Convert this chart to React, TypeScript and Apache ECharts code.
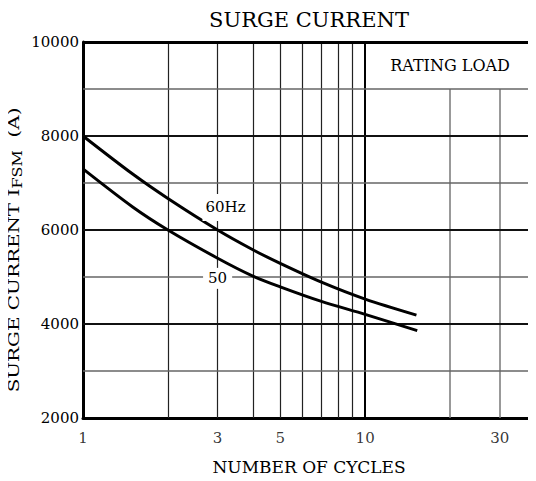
import React, { useEffect, useRef } from 'react';
import * as echarts from 'echarts';

const FONT = '"DejaVu Serif", serif';

// 60 Hz curve (number of cycles, surge current A)
const cycles60 = [1, 1.5, 2, 3, 4, 5, 7, 10, 15.2];
const current60 = [8000, 7190, 6670, 6000, 5580, 5290, 4890, 4530, 4190];
// 50 Hz curve
const cycles50 = [1, 1.5, 2, 3, 4, 5, 7, 10, 15.3];
const current50 = [7300, 6490, 6000, 5400, 5020, 4790, 4480, 4206, 3860];

const xTickLabels = [1, 3, 5, 10, 30];
const xMinorLines = [2, 3, 4, 5, 6, 7, 8, 9];
const xUpperLines = [20, 30];
const yMajorLines = [4000, 6000, 8000];
const yMinorLines = [3000, 5000, 7000, 9000];

const X_MIN = 1;
const X_MAX = 40;
const Y_MIN = 2000;
const Y_MAX = 10000;

export default function App() {
  const ref = useRef<HTMLDivElement>(null);

  useEffect(() => {
    if (!ref.current) return;
    const chart = echarts.init(ref.current, undefined, { renderer: 'svg' });

    const gridLines: any[] = [];
    xMinorLines.forEach((v) =>
      gridLines.push({ xAxis: v, lineStyle: { color: '#222', width: 1.2, type: 'solid' } })
    );
    gridLines.push({ xAxis: 10, lineStyle: { color: '#000', width: 2, type: 'solid' } });
    gridLines.push({ xAxis: X_MAX, lineStyle: { color: '#999', width: 1, type: 'solid' } });
    xUpperLines.forEach((v) =>
      gridLines.push([
        { coord: [v, Y_MIN], lineStyle: { color: '#777', width: 1.5, type: 'solid' } },
        { coord: [v, 9000] },
      ])
    );
    yMinorLines.forEach((v) =>
      gridLines.push({ yAxis: v, lineStyle: { color: '#666', width: 1.5, type: 'solid' } })
    );
    yMajorLines.forEach((v) =>
      gridLines.push({ yAxis: v, lineStyle: { color: '#111', width: 2, type: 'solid' } })
    );
    gridLines.push({ yAxis: Y_MAX, lineStyle: { color: '#000', width: 3, type: 'solid' } });

    const option: any = {
      animation: false,
      backgroundColor: '#fff',
      grid: { left: 83, right: 1, top: 42, bottom: 63, containLabel: false },
      xAxis: {
        type: 'log',
        logBase: 10,
        min: X_MIN,
        max: X_MAX,
        axisLine: { show: true, onZero: false, lineStyle: { color: '#000', width: 3 } },
        axisTick: { show: false },
        axisLabel: { show: false },
        splitLine: { show: false },
        name: 'NUMBER OF CYCLES',
        nameLocation: 'middle',
        nameGap: 40,
        nameTextStyle: { fontFamily: FONT, fontSize: 17, color: '#000' },
      },
      yAxis: {
        type: 'value',
        min: Y_MIN,
        max: Y_MAX,
        interval: 2000,
        axisLine: { show: true, lineStyle: { color: '#000', width: 3 } },
        axisTick: { show: false },
        splitLine: { show: false },
        axisLabel: {
          fontFamily: FONT,
          fontSize: 15,
          color: '#000',
          margin: 4,
          formatter: (v: number) => String(v),
        },
      },
      graphic: [
        {
          type: 'text',
          x: 309,
          y: 20,
          style: {
            text: 'SURGE CURRENT',
            fontFamily: FONT,
            fontSize: 21,
            fill: '#000',
            align: 'center',
            verticalAlign: 'middle',
          },
        },
        {
          type: 'text',
          x: 14,
          y: 250,
          rotation: Math.PI / 2,
          scaleX: 1.33,
          style: {
            text: '{n|SURGE CURRENT I}{s|FSM}{n|  (A)}',
            align: 'center',
            verticalAlign: 'middle',
            rich: {
              n: { fontFamily: FONT, fontSize: 15, fill: '#000', lineHeight: 20 },
              s: { fontFamily: FONT, fontSize: 12, fill: '#000', lineHeight: 12, verticalAlign: 'bottom' },
            },
          },
        },
      ],
      series: [
        {
          name: 'grid',
          type: 'scatter',
          data: xTickLabels.map((v) => [v, Y_MIN]),
          symbolSize: 1,
          clip: false,
          silent: true,
          itemStyle: { color: 'rgba(0,0,0,0)' },
          label: {
            show: true,
            position: 'bottom',
            distance: 12,
            formatter: (p: any) => String(p.value[0]),
            fontFamily: FONT,
            fontSize: 15,
            color: '#000',
          },
          markLine: {
            silent: true,
            symbol: ['none', 'none'],
            z: 1,
            label: { show: false },
            data: gridLines,
          },
          markArea: {
            silent: true,
            itemStyle: { color: 'rgba(0,0,0,0)' },
            label: {
              show: true,
              position: 'inside',
              fontFamily: FONT,
              fontSize: 16,
              color: '#000',
            },
            data: [[{ name: 'RATING LOAD', coord: [10, 9000] }, { coord: [X_MAX, Y_MAX] }]],
          },
          markPoint: {
            silent: true,
            z: 10,
            symbolSize: 1,
            itemStyle: { color: 'rgba(0,0,0,0)' },
            label: {
              show: true,
              position: 'inside',
              fontFamily: FONT,
              fontSize: 15,
              color: '#000',
              backgroundColor: '#fff',
              formatter: (p: any) => p.name,
            },
            data: [
              { name: '60Hz', coord: [3.2, 6470], label: { padding: [6, 3] } },
              { name: '50', coord: [3.0, 4960], label: { padding: [3, 5] } },
            ],
          },
        },
        {
          name: '60Hz',
          type: 'line',
          smooth: 0.3,
          showSymbol: false,
          z: 3,
          lineStyle: { color: '#000', width: 3 },
          data: cycles60.map((c, i) => [c, current60[i]]),
        },
        {
          name: '50Hz',
          type: 'line',
          smooth: 0.3,
          showSymbol: false,
          z: 3,
          lineStyle: { color: '#000', width: 3 },
          data: cycles50.map((c, i) => [c, current50[i]]),
        },
      ],
    };

    chart.setOption(option);
    return () => chart.dispose();
  }, []);

  return <div ref={ref} style={{ width: 536, height: 481, marginLeft: -8, marginTop: -8 }} />;
}
